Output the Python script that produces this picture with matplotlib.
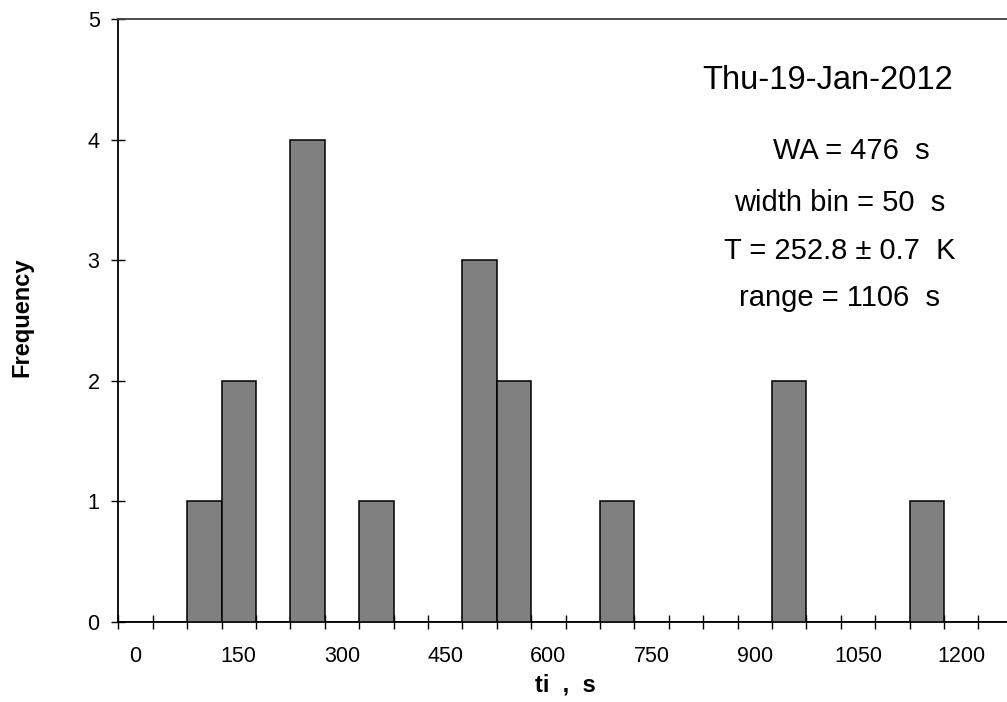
import numpy as np
import matplotlib
matplotlib.use("Agg")
import matplotlib.pyplot as plt

# histogram bins (s) and counts per bin
bin_values = [0, 50, 100, 150, 200, 250, 300, 350, 400, 450, 500, 550, 600,
              650, 700, 750, 800, 850, 900, 950, 1000, 1050, 1100, 1150, 1200, 1250]
counts = [0, 0, 1, 2, 0, 4, 0, 1, 0, 0, 3, 2, 0,
          0, 1, 0, 0, 0, 0, 2, 0, 0, 0, 1, 0, 0]
bin_width = 50

date_str = "Thu-19-Jan-2012"
info_lines = ["WA = 476  s", "width bin = 50  s", "T = 252.8 \u00b1 0.7  K", "range = 1106  s"]

plt.rcParams['font.family'] = ['Liberation Sans', 'DejaVu Sans']

dpi = 100
fig = plt.figure(figsize=(1007 / dpi, 702 / dpi), dpi=dpi)
ax = fig.add_axes([118.3 / 1007, 80 / 702, 894.4 / 1007, 603 / 702])

ax.bar(bin_values, counts, width=bin_width, color='#808080',
       edgecolor='black', linewidth=1.1, zorder=3)

ax.set_xlim(bin_values[0] - bin_width / 2, bin_values[-1] + bin_width / 2)
ax.set_ylim(0, 5)

# tick marks on bin edges, labels on every third bin centre
edges = np.array(bin_values + [bin_values[-1] + bin_width]) - bin_width / 2
ax.set_xticks(edges)
ax.set_xticklabels([''] * len(edges))
ax.set_xticks(bin_values[::3], minor=True)
ax.set_xticklabels([str(v) for v in bin_values[::3]], minor=True)
ax.tick_params(axis='x', which='major', direction='inout', length=10, width=1)
ax.tick_params(axis='x', which='minor', length=0, labelsize=15.5, pad=17)

ax.set_yticks(range(6))
ax.tick_params(axis='y', direction='inout', length=10, width=1, labelsize=15.5, pad=8.5)

for side in ['left', 'bottom']:
    ax.spines[side].set_linewidth(1.3)
    ax.spines[side].set_color('black')
ax.spines['top'].set_color('#404040')
ax.spines['top'].set_linewidth(1.3)
ax.spines['right'].set_visible(False)

ax.set_xlabel("ti  ,  s", fontsize=17, fontweight='bold', labelpad=5)
ax.set_ylabel("Frequency", fontsize=17, fontweight='bold')
ax.yaxis.set_label_coords(-0.0954, 0.506)

ax.text(0.7932, 0.8977, date_str, transform=ax.transAxes, fontsize=23.5,
        ha='center', va='center')
info_pos = [(0.819, 0.781), (0.806, 0.695), (0.807, 0.615), (0.806, 0.538)]
for (tx, ty), line in zip(info_pos, info_lines):
    ax.text(tx, ty, line, transform=ax.transAxes, fontsize=21,
            ha='center', va='center')

fig.savefig("out.png", dpi=dpi)
